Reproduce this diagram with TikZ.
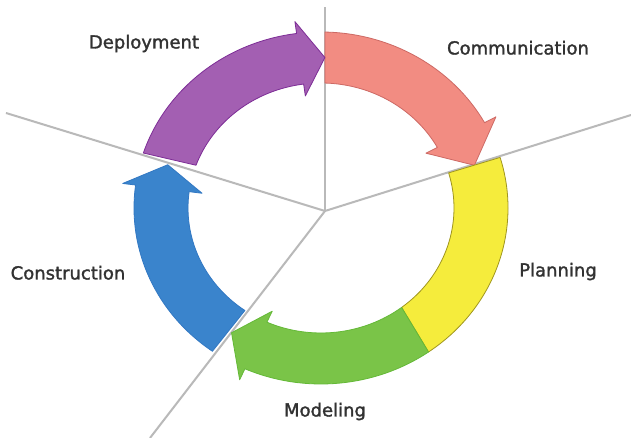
\documentclass[tikz,border=0pt]{standalone}
\usepackage{fontspec}
\setmainfont{DejaVu Sans}
\newfontfamily\phasefont[FakeBold=1.6]{DejaVu Sans}
\definecolor{pinkF}{RGB}{242,140,130}
\definecolor{pinkD}{RGB}{205,105,100}
\definecolor{yelF}{RGB}{245,236,60}
\definecolor{yelD}{RGB}{160,150,30}
\definecolor{grnF}{RGB}{122,196,72}
\definecolor{grnD}{RGB}{100,185,55}
\definecolor{bluF}{RGB}{58,132,204}
\definecolor{bluD}{RGB}{50,120,195}
\definecolor{purF}{RGB}{163,95,178}
\definecolor{purD}{RGB}{125,45,150}
\definecolor{lineG}{RGB}{185,185,185}
\definecolor{txtG}{RGB}{50,50,50}
% #1 style, #2 start outer angle, #3 start inner angle, #4 head base angle, #5 tip angle
\newcommand{\cyclearrow}[5]{%
  \path[#1] (#2:187pt and 176pt)
    arc[start angle=#2, end angle=#4, x radius=187pt, y radius=176pt]
    -- (#4:200pt and 188pt) -- (#5:160pt and 150.5pt) -- (#4:120pt and 113pt)
    -- (#4:133pt and 125pt)
    arc[start angle=#4, end angle=#3, x radius=133pt, y radius=125pt] -- cycle;}
\begin{document}
\begin{tikzpicture}[x=1pt,y=1pt,
  divider/.style={draw=lineG, line width=2pt},
  phase/.style={font=\phasefont\fontsize{18}{20}\selectfont, text=txtG, anchor=base, inner sep=0pt},
  segline/.style={line width=0.8pt, line join=round}]
\useasboundingbox (0,0) rectangle (631,438);
\fill[white] (0,0) rectangle (631,438);
% dividing lines
\coordinate (hub) at (325,227);
\coordinate (eTop) at (325,431);
\coordinate (eUR) at (631,323);
\coordinate (eUL) at (6,325);
\coordinate (eLL) at (150,0);
\draw[divider] (hub) -- (eTop);
\draw[divider] (hub) -- (eUR);
\draw[divider] (hub) -- (eUL);
\draw[divider] (hub) -- (eLL);
% ring of arrows
\begin{scope}[shift={(321,230)}]
  \cyclearrow{fill=pinkF, draw=pinkD, segline}{88.8}{88.3}{29}{16.5}
  \path[fill=yelF, draw=yelD, segline] (16.7:187pt and 176pt)
    arc[start angle=16.7, end angle=-54.9, x radius=187pt, y radius=176pt]
    -- (-52.7:133pt and 125pt)
    arc[start angle=-52.7, end angle=16.3, x radius=133pt, y radius=125pt] -- cycle;
  \cyclearrow{fill=grnF, draw=grnD, segline}{-54.9}{-52.7}{-114}{-124}
  \cyclearrow{fill=bluF, draw=bluD, segline}{234.5}{235.1}{172.5}{163.3}
  \cyclearrow{fill=purF, draw=purD, segline}{161.8}{160}{97.5}{88.6}
\end{scope}
% labels
\node[phase] (deploy) at (144,389.5) {Deployment};
\node[phase] (comm) at (518,383.5) {Communication};
\node[phase] (plan) at (558,161.5) {Planning};
\node[phase] (model) at (325,21.5) {Modeling};
\node[phase] (constr) at (68,158.5) {Construction};
\end{tikzpicture}
\end{document}
